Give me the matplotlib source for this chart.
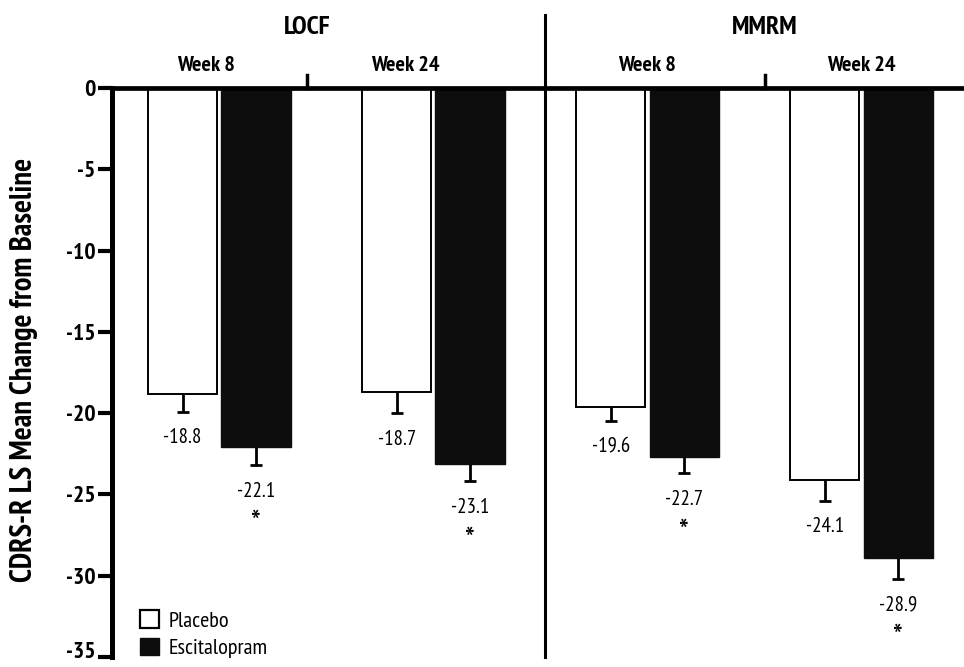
import matplotlib
matplotlib.use('Agg')
import matplotlib.pyplot as plt
import matplotlib.transforms as mtransforms
import numpy as np
from matplotlib.patches import Patch

plt.rcParams['font.family'] = ['PT Sans Narrow', 'Roboto Condensed', 'DejaVu Sans']

# Data
groups = ['Week 8', 'Week 24', 'Week 8', 'Week 24']
methods = ['LOCF', 'MMRM']
placebo = [-18.8, -18.7, -19.6, -24.1]
escitalopram = [-22.1, -23.1, -22.7, -28.9]
placebo_err = [1.1, 1.3, 0.9, 1.3]
escitalopram_err = [1.1, 1.1, 1.0, 1.3]
significant = [True, True, True, True]
y_ticks = [0, -5, -10, -15, -20, -25, -30, -35]

fig = plt.figure(figsize=(9.64, 6.67), dpi=100)
ax = fig.add_axes([112 / 964, 10 / 667, 852 / 964, 569 / 667])

x = list(range(len(groups)))
off = 0.172
w = 0.325
xp = [i - off for i in x]
xe = [i + off for i in x]

ax.bar(xp, placebo, width=w, color='white', edgecolor='black', linewidth=1.4, zorder=2)
ax.bar(xe, escitalopram, width=w, color='#0d0d0d', edgecolor='#0d0d0d', linewidth=1.0, zorder=2)


def down_errorbar(xs, vals, errs):
    # one-sided (downward) error bar, cap only at the lower end
    _, caps, _ = ax.errorbar(xs, vals, yerr=[errs, [0] * len(errs)], fmt='none', ecolor='black',
                             elinewidth=2, capsize=4.5, capthick=2, zorder=3)
    for c in caps:
        if np.allclose(c.get_ydata(), vals):
            c.set_visible(False)


down_errorbar(xp, placebo, placebo_err)
down_errorbar(xe, escitalopram, escitalopram_err)

# value labels and significance marks
for i in x:
    yb = placebo[i] - placebo_err[i] - 1.6
    ax.text(xp[i], yb, f'{placebo[i]:.1f}', ha='center', va='center', fontsize=15)
    ye = escitalopram[i] - escitalopram_err[i] - 1.6
    ax.text(xe[i], ye, f'{escitalopram[i]:.1f}', ha='center', va='center', fontsize=15)
    if significant[i]:
        ax.text(xe[i], ye - 2.1, '*', ha='center', va='center', fontsize=24)

ax.set_xlim(-0.502, 3.479)
ax.set_ylim(-35, 0)
ax.set_yticks(y_ticks)
ax.set_yticklabels([str(t) for t in y_ticks], fontsize=17, fontweight='bold')
ax.tick_params(axis='y', length=10, width=3, pad=2)
ax.set_xticks([])

# lift the bottom tick label a little so it stays inside the figure
lowest = ax.get_yticklabels()[-1]
lowest.set_transform(lowest.get_transform() +
                     mtransforms.ScaledTranslation(0, 5 / 72, fig.dpi_scale_trans))

for s in ['right', 'bottom']:
    ax.spines[s].set_visible(False)
ax.spines['left'].set_linewidth(3.6)
ax.spines['top'].set_linewidth(3.4)

# separator between methods and small ticks between weeks
ax.plot([1.52, 1.52], [4.5, -35], color='black', lw=2.2, clip_on=False)
for tx in [0.41, 2.55]:
    ax.plot([tx, tx], [0, 0.8], color='black', lw=2.5, clip_on=False)

# headers
ax.text(0.41, 3.7, methods[0], ha='center', va='center', fontsize=19, fontweight='bold')
ax.text(2.55, 3.7, methods[1], ha='center', va='center', fontsize=19, fontweight='bold')
week_x = [-0.063, 0.87, 2.0, 3.0]
for g, wx in zip(groups, week_x):
    ax.text(wx, 1.4, g, ha='center', va='center', fontsize=16, fontweight='bold')

fig.text(24 / 964, 0.445, 'CDRS-R LS Mean Change from Baseline', rotation=90,
         ha='center', va='center', fontsize=22, fontweight='bold')

handles = [Patch(facecolor='white', edgecolor='black', linewidth=1.6, label='Placebo'),
           Patch(facecolor='#0d0d0d', edgecolor='#0d0d0d', label='Escitalopram')]
ax.legend(handles=handles, loc='lower left', bbox_to_anchor=(0.033, -0.002), frameon=False,
          borderaxespad=0, borderpad=0, fontsize=16, handlelength=0.85, handleheight=0.85,
          handletextpad=0.45, labelspacing=0.3)

fig.savefig('out.png', dpi=100)
